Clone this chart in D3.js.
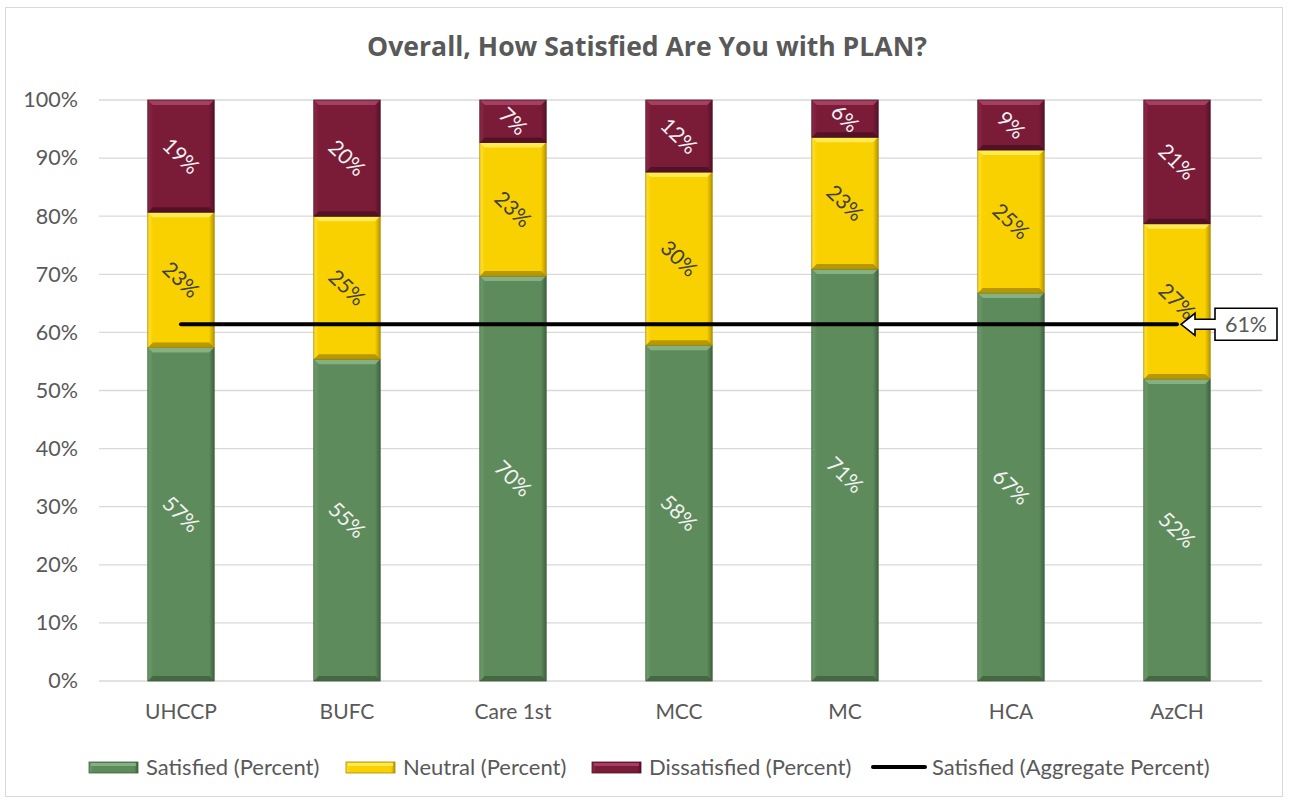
<!DOCTYPE html>
<html><head><meta charset="utf-8">
<script src="https://cdn.jsdelivr.net/npm/d3@7"></script>
<style>body{margin:0;background:#fff;font-family:Lato,"Open Sans",sans-serif;}</style>
</head><body><svg id="c" width="1289" height="802"></svg>
<script>
const categories = ["UHCCP","BUFC","Care 1st","MCC","MC","HCA","AzCH"];
const satisfied = [57.4,55.4,69.7,57.8,70.9,66.8,52.0];
const neutral = [23.3,24.6,23.0,29.8,22.7,24.6,26.7];
const dissatisfied = [19.3,20.0,7.3,12.4,6.4,8.6,21.3];
const aggregate = 61.4;
const yTicks = [0,10,20,30,40,50,60,70,80,90,100];
const seriesNames = ["Satisfied (Percent)","Neutral (Percent)","Dissatisfied (Percent)","Satisfied (Aggregate Percent)"];

const svg = d3.select("#c");
svg.append("rect").attr("x",5.5).attr("y",7.5).attr("width",1277).attr("height",789).attr("fill","#fff").attr("stroke","#d9d9d9");

const defs = svg.append("defs");
function grad(id, c1, c2, c3){
  const g = defs.append("linearGradient").attr("id",id).attr("x1",0).attr("x2",1).attr("y1",0).attr("y2",0);
  g.append("stop").attr("offset","0%").attr("stop-color",c3);
  g.append("stop").attr("offset","8%").attr("stop-color",c1);
  g.append("stop").attr("offset","92%").attr("stop-color",c1);
  g.append("stop").attr("offset","100%").attr("stop-color",c2);
}
grad("gs","#5e8b5c","#3f6340","#6f9c6c");
grad("gn","#f9d100","#b79500","#ffe033");
grad("gd","#7a1b38","#55122a","#8c2a48");
const fills = {s:"url(#gs)", n:"url(#gn)", d:"url(#gd)"};
const tops = {s:"#8fb98b", n:"#fff06a", d:"#b0476a"};
const bots = {s:"#3e5f3d", n:"#a88900", d:"#4a0f22"};

const x = d3.scaleBand().domain(categories).range([98,1260]).paddingInner(0.6).paddingOuter(0.3);
const y = d3.scaleLinear().domain([0,100]).range([681,100]);

svg.append("g").selectAll("line").data(yTicks).join("line")
  .attr("x1",99).attr("x2",1262).attr("y1",d=>y(d)).attr("y2",d=>y(d))
  .attr("stroke","#d9d9d9").attr("stroke-width",1.3);

const yAxis = d3.axisLeft(y).tickValues(yTicks).tickFormat(d=>d+"%").tickSize(0).tickPadding(0);
const ya = svg.append("g").attr("transform","translate(78,0)").call(yAxis);
ya.select(".domain").remove();
ya.selectAll("text").attr("font-size",21.5).attr("fill","#595959").attr("font-family","Lato,sans-serif");

const xAxis = d3.axisBottom(x).tickSize(0).tickPadding(0);
const xa = svg.append("g").attr("transform","translate(0,712)").call(xAxis);
xa.select(".domain").remove();
xa.selectAll("text").attr("font-size",21).attr("fill","#595959").attr("font-family","Lato,sans-serif").attr("dy","0.35em");

const rows = categories.map((c,i)=>({cat:c,s:satisfied[i],n:neutral[i],d:dissatisfied[i]}));
const stack = d3.stack().keys(["s","n","d"])(rows);

const bw = x.bandwidth();
stack.forEach(layer=>{
  const k = layer.key;
  const g = svg.append("g");
  layer.forEach(seg=>{
    const cat = seg.data.cat;
    const x0 = x(cat), y0 = y(seg[1]), h = y(seg[0])-y(seg[1]);
    g.append("rect").attr("x",x0).attr("y",y0).attr("width",bw).attr("height",h).attr("fill",fills[k]);
    g.append("path").attr("d",`M${x0},${y0}L${x0+bw},${y0}L${x0+bw-5},${y0+5}L${x0+5},${y0+5}Z`).attr("fill",tops[k]).attr("opacity",0.8);
    g.append("path").attr("d",`M${x0},${y0+h}L${x0+bw},${y0+h}L${x0+bw-5},${y0+h-5}L${x0+5},${y0+h-5}Z`).attr("fill",bots[k]).attr("opacity",0.8);
    g.append("rect").attr("x",x0).attr("y",y0).attr("width",bw).attr("height",h).attr("fill","none").attr("stroke",bots[k]).attr("stroke-width",0.8);
  });
});

stack.forEach(layer=>{
  const k = layer.key;
  layer.forEach(seg=>{
    const cx = x(seg.data.cat)+bw/2, cy = (y(seg[0])+y(seg[1]))/2;
    svg.append("text").attr("transform",`translate(${cx},${cy}) rotate(44)`)
      .attr("text-anchor","middle").attr("dy","0.35em").attr("font-size",21)
      .attr("fill", k==="n" ? "#404040" : "#f2f2f2").attr("font-family","Lato,sans-serif")
      .text(Math.round(seg[1]-seg[0])+"%");
  });
});

const lx1 = x(categories[0])+bw/2, lx2 = x(categories[categories.length-1])+bw/2;
svg.append("line").attr("x1",lx1).attr("x2",lx2).attr("y1",y(aggregate)).attr("y2",y(aggregate))
  .attr("stroke","#000").attr("stroke-width",4).attr("stroke-linecap","round");

const ay = y(aggregate);
const ax = lx2+4;
svg.append("path").attr("d",`M${ax},${ay} L${ax+14},${ay-11} L${ax+14},${ay-5} L${ax+34},${ay-5} L${ax+34},${ay-16} L${ax+96},${ay-16} L${ax+96},${ay+16} L${ax+34},${ay+16} L${ax+34},${ay+5} L${ax+14},${ay+5} L${ax+14},${ay+11} Z`)
  .attr("fill","#fff").attr("stroke","#000").attr("stroke-width",1.6).attr("stroke-linejoin","miter");
svg.append("text").attr("x",ax+65).attr("y",ay).attr("dy","0.35em").attr("text-anchor","middle")
  .attr("font-size",21.5).attr("fill","#595959").text(Math.round(aggregate)+"%");

const title = svg.append("text").attr("x",647).attr("y",56).attr("text-anchor","middle").attr("font-size",23)
  .attr("font-weight","bold").attr("font-family","'Open Sans',sans-serif").attr("fill","#595959").text("Overall, How Satisfied Are You with PLAN?");
const tl = title.node().getComputedTextLength();
title.attr("font-size", 23*560/tl);

const legX = [89,346,592,873];
const lg = svg.append("g");
seriesNames.forEach((name,i)=>{
  const gx = legX[i], gy = 767;
  if(i<3){
    const k = ["s","n","d"][i];
    lg.append("rect").attr("x",gx).attr("y",gy-5).attr("width",49).attr("height",11).attr("fill",fills[k]).attr("stroke",bots[k]).attr("stroke-width",0.8);
    lg.append("rect").attr("x",gx+2).attr("y",gy-4).attr("width",45).attr("height",3).attr("fill",tops[k]).attr("opacity",0.8);
  } else {
    lg.append("line").attr("x1",gx).attr("x2",gx+52).attr("y1",gy).attr("y2",gy).attr("stroke","#000").attr("stroke-width",4).attr("stroke-linecap","round");
  }
  lg.append("text").attr("x",gx+(i<3?57:59)).attr("y",gy).attr("dy","0.35em").attr("font-size",22).attr("fill","#595959").text(name);
});
</script></body></html>
